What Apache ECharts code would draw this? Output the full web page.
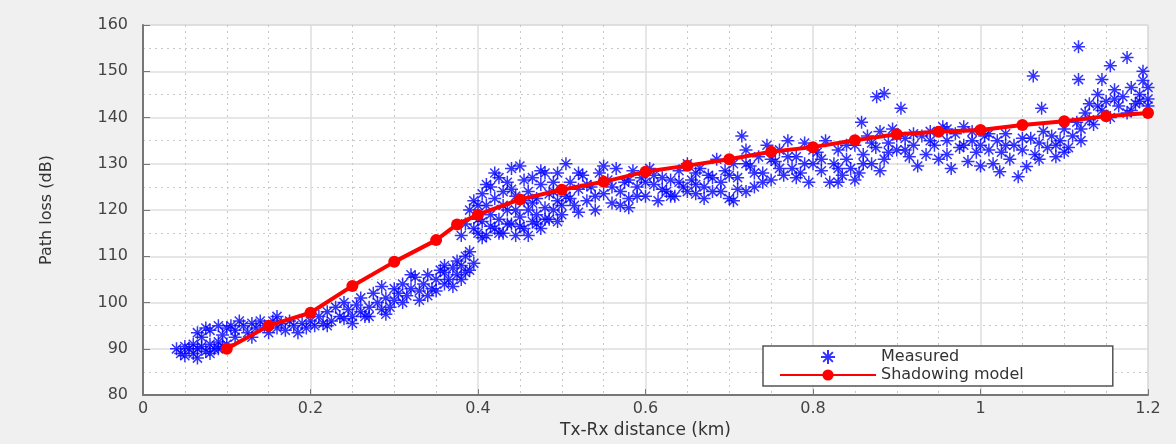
<!DOCTYPE html>
<html>
<head>
<meta charset="utf-8">
<script src="https://cdn.jsdelivr.net/npm/echarts@6/dist/echarts.min.js"></script>
<style>
  html, body { margin: 0; padding: 0; background: #f0f0f0; }
  #chart { width: 1176px; height: 444px; }
</style>
</head>
<body>
<div id="chart"></div>
<script>
// shadowing model (red line)
const modelX = [0.1, 0.15, 0.2, 0.25, 0.3, 0.35, 0.375, 0.4, 0.45, 0.5, 0.55, 0.6, 0.65, 0.7, 0.75, 0.8, 0.85, 0.9, 0.95, 1.0, 1.05, 1.1, 1.15, 1.2];
const modelY = [90, 95, 97.8, 103.6, 108.8, 113.5, 116.9, 119, 122.3, 124.4, 126.1, 128.3, 129.6, 131, 132.6, 133.6, 135.1, 136.4, 136.9, 137.3, 138.4, 139.2, 140.3, 141];

// measured points, [distance km, path loss dB]
const measuredNear = [
  [0.04,90],[0.045,89],[0.05,90.5],[0.05,88.5],[0.055,90],[0.06,91],[0.06,89],[0.065,88],[0.065,90],[0.07,90.5],
  [0.075,89.5],[0.08,91],[0.08,89],[0.085,90],[0.09,91.5],[0.09,90],[0.095,90.5],[0.1,91],
  [0.07,92.5],[0.075,94.5],[0.08,94],[0.09,95],[0.095,93],[0.1,94.5],[0.065,93.5],
  [0.105,95],[0.11,94],[0.115,96],[0.12,95],[0.125,93.5],[0.13,95.5],[0.135,94.5],[0.14,96],[0.145,95],[0.15,93.5],
  [0.155,96],[0.16,94.5],[0.165,95.5],[0.17,94],[0.175,96],[0.18,95],[0.185,93.5],[0.19,95.5],[0.195,94.5],[0.2,96],
  [0.11,92.5],[0.13,92.5],[0.16,97],
  [0.205,95],[0.21,97],[0.215,95.5],[0.22,98],[0.225,96],[0.23,99],[0.235,97],[0.24,100],[0.24,96.5],[0.245,98.5],
  [0.25,97],[0.255,99.5],[0.26,98],[0.26,101],[0.265,97],[0.27,99],[0.275,102],[0.28,100],[0.285,98.5],[0.29,101],
  [0.295,99],[0.3,103],[0.3,100.5],[0.285,103.5],
  [0.305,102],[0.31,104],[0.315,101.5],[0.32,103],[0.325,105.5],[0.33,102.5],[0.335,104],[0.34,106],[0.345,103],[0.35,105],
  [0.355,107],[0.36,104],[0.36,106.5],[0.365,105],[0.37,107.5],[0.37,103.5],[0.375,106],[0.38,108],[0.38,105],[0.385,110],
  [0.39,107],[0.39,111],[0.395,108.5],[0.35,102.5],[0.33,100.5],
  [0.22,95],[0.25,95.5],[0.27,97],[0.29,97.5],[0.31,100],[0.32,106],[0.34,101.5],[0.36,108],[0.375,109],[0.385,106.5]
];
const measuredMid = [
  [0.38,114.5],[0.385,117],[0.39,120],[0.395,122],[0.4,118],[0.405,123.5],[0.41,121],[0.415,125],[0.42,122.5],[0.425,127],
  [0.43,124],[0.435,126],[0.44,129],[0.445,123],[0.45,129.5],[0.455,126.5],[0.46,124],[0.465,127],[0.47,122.5],[0.475,125.5],
  [0.48,128],[0.485,123.5],[0.49,126],[0.495,122],
  [0.4,115],[0.405,117.5],[0.41,114.5],[0.415,119],[0.42,116],[0.425,118],[0.43,115],[0.435,120],[0.44,117],[0.445,114.5],
  [0.45,118.5],[0.455,116],[0.46,120],[0.465,117.5],[0.47,119],[0.475,116],[0.48,120.5],[0.485,118],[0.49,120],[0.495,117.5],
  [0.5,119],[0.5,121],
  [0.395,116],[0.4,121],[0.405,114],[0.41,125.5],[0.415,116.5],[0.42,128],[0.425,115],[0.43,121],[0.435,117],[0.44,124.5],
  [0.445,120],[0.45,116.5],[0.455,122],[0.46,114.5],[0.465,121.5],[0.47,117],[0.475,128.5],[0.48,118],[0.49,124],[0.495,128],
  [0.505,130],[0.505,123],[0.51,126],[0.515,121],[0.52,124.5],[0.525,127.5],[0.53,122],[0.535,125],[0.54,120],[0.545,128],
  [0.55,123.5],[0.555,126.5],[0.56,121.5],[0.565,129],[0.57,124],[0.575,126],[0.58,122.5],[0.585,128.5],[0.59,125],[0.595,127],
  [0.6,123],[0.605,129],[0.61,125.5],[0.615,122],[0.62,127],[0.625,124],[0.63,126.5],[0.52,119.5],[0.58,120.5],
  [0.51,122.5],[0.52,128],[0.53,125.5],[0.54,123],[0.55,129.5],[0.56,125],[0.57,121],[0.58,126.5],[0.59,123],[0.6,126],
  [0.61,127.5],[0.62,124.5],[0.63,123],
  [0.635,123],[0.64,128.5],[0.645,125],[0.65,130],[0.655,126.5],[0.66,123.5],[0.665,129],[0.67,125],[0.675,127.5],[0.68,124],
  [0.685,131],[0.69,126],[0.695,128.5],[0.7,122.5],[0.705,122],[0.705,130],[0.71,127],[0.715,136],[0.72,133],[0.725,129.5],
  [0.73,125],[0.735,131.5],[0.74,128],[0.745,134],[0.75,126.5],[0.755,130.5],[0.76,133],[0.765,127.5],[0.77,135],[0.775,129],
  [0.78,131.5],[0.785,128],[0.79,134.5],[0.795,126],[0.8,130],[0.805,132.5],[0.81,128.5],[0.815,135],[0.82,126],[0.66,125.5],[0.72,124],
  [0.64,126],[0.65,124],[0.66,128],[0.67,122.5],[0.68,127],[0.69,124],[0.7,127.5],[0.71,124.5],[0.72,130],[0.73,128],
  [0.74,126],[0.75,131],[0.76,129],[0.77,131.5],[0.78,127],[0.79,130],[0.8,133],[0.81,131]
];
const measuredFar = [
  [0.825,130],[0.83,133],[0.835,127.5],[0.84,131],[0.845,129],[0.85,134],[0.855,128],[0.858,139],[0.86,132],[0.865,136],
  [0.87,130],[0.875,133.5],[0.876,144.5],[0.885,145.2],[0.88,137],[0.885,131],[0.89,134.5],[0.895,137.5],[0.9,133],[0.905,142],
  [0.91,135.5],[0.915,131.5],[0.92,134],[0.925,129.5],[0.93,136],[0.935,132],[0.94,137],[0.945,134],[0.95,131],[0.955,138],
  [0.96,135],[0.96,132],[0.965,129],[0.97,136.5],[0.975,133.5],[0.98,138],[0.985,130.5],[0.99,135],[0.995,132.5],[1.0,129.5],
  [0.83,126],[0.85,126.5],
  [0.83,129],[0.84,134],[0.86,130],[0.87,134.5],[0.88,128.5],[0.89,132.5],[0.9,136],[0.91,133],[0.92,136.5],[0.94,135],
  [0.96,137.5],[0.98,134],[0.99,137],
  [1.005,136],[1.01,133],[1.015,130],[1.02,135],[1.023,128.3],[1.025,132.5],[1.03,136.5],[1.035,131],[1.04,134],[1.045,127.2],
  [1.05,133],[1.055,129.4],[1.06,135.5],[1.063,149],[1.065,132],[1.07,134.5],[1.073,142],[1.075,137],[1.08,133.5],[1.085,136],
  [1.09,131.5],[1.095,135],[1.1,137.5],[1.105,133.5],[1.11,136],[1.115,139],[1.117,155.3],[1.117,148.2],[1.12,135],[1.125,141],
  [1.13,143],[1.135,138.5],[1.14,145],[1.145,148.2],[1.145,141.5],[1.15,143.5],[1.155,151.2],[1.155,140],[1.16,146],[1.165,142.5],
  [1.17,144.5],[1.175,153],[1.175,141],[1.18,146.5],[1.185,143],[1.19,145],[1.194,150],[1.194,148],[1.2,144],[1.2,146.5],[1.2,142.5],
  [1.0,134],[1.01,136.5],[1.03,134],[1.05,135.5],[1.07,131],[1.09,134],[1.1,132.5],[1.12,137.5],[1.13,139.5],[1.14,142.5],
  [1.16,144],[1.18,141.5],[1.19,143.5]
];

const measured = measuredNear.concat(measuredMid, measuredFar);
const modelData = modelX.map((x, i) => [x, modelY[i]]);

const asterisk = 'path://M0 5L10 5M5 0L5 10M1.5 1.5L8.5 8.5M1.5 8.5L8.5 1.5';
const font = 'DejaVu Sans';

const chart = echarts.init(document.getElementById('chart'));
const option = {
  backgroundColor: '#f0f0f0',
  animation: false,
  grid: {
    left: 143, right: 28, top: 25, bottom: 46,
    show: true, backgroundColor: '#ffffff', borderColor: '#c8c8c8', borderWidth: 1
  },
  legend: {
    left: 763, top: 346,
    orient: 'vertical',
    backgroundColor: '#ffffff',
    borderColor: '#555',
    borderWidth: 1.5,
    borderRadius: 0,
    padding: [3, 89, 3, 16],
    itemGap: 2,
    itemWidth: 96,
    itemHeight: 14,
    textStyle: { fontFamily: font, fontSize: 16, color: '#333' },
    data: ['Measured', 'Shadowing model']
  },
  xAxis: {
    type: 'value', min: 0, max: 1.2, interval: 0.2,
    name: 'Tx-Rx distance (km)', nameLocation: 'middle', nameGap: 26,
    nameTextStyle: { fontFamily: font, fontSize: 17, color: '#333' },
    axisLine: { lineStyle: { color: '#777', width: 2 } },
    axisTick: { inside: true, length: 6, lineStyle: { color: '#777' } },
    axisLabel: { fontFamily: font, fontSize: 16, color: '#444', margin: 6 },
    splitLine: { show: true, lineStyle: { color: '#dedede', width: 1.5 } },
    minorTick: { show: false, splitNumber: 4 },
    minorSplitLine: { show: true, lineStyle: { color: '#c8c8c8', type: [2, 4], width: 1 } }
  },
  yAxis: {
    type: 'value', min: 80, max: 160, interval: 10,
    name: 'Path loss (dB)', nameLocation: 'middle', nameGap: 88,
    nameTextStyle: { fontFamily: font, fontSize: 16, color: '#333' },
    axisLine: { show: true, lineStyle: { color: '#777', width: 2 } },
    axisTick: { show: true, inside: true, length: 7, lineStyle: { color: '#777' } },
    axisLabel: { fontFamily: font, fontSize: 16, color: '#444', margin: 15 },
    splitLine: { show: true, lineStyle: { color: '#dedede', width: 1.5 } },
    minorTick: { show: false, splitNumber: 2 },
    minorSplitLine: { show: true, lineStyle: { color: '#c8c8c8', type: [2, 4], width: 1 } }
  },
  series: [
    {
      name: 'Measured',
      type: 'scatter',
      data: measured,
      symbol: asterisk,
      symbolSize: 13,
      itemStyle: { color: 'transparent', borderColor: '#0000ff', borderWidth: 1.5 },
      emphasis: { disabled: true }
    },
    {
      name: 'Shadowing model',
      type: 'line',
      data: modelData,
      symbol: 'circle',
      symbolSize: 12,
      lineStyle: { color: '#ff0000', width: 4 },
      itemStyle: { color: '#ff0000' },
      emphasis: { disabled: true },
      z: 3
    }
  ]
};
chart.setOption(option);
</script>
</body>
</html>
